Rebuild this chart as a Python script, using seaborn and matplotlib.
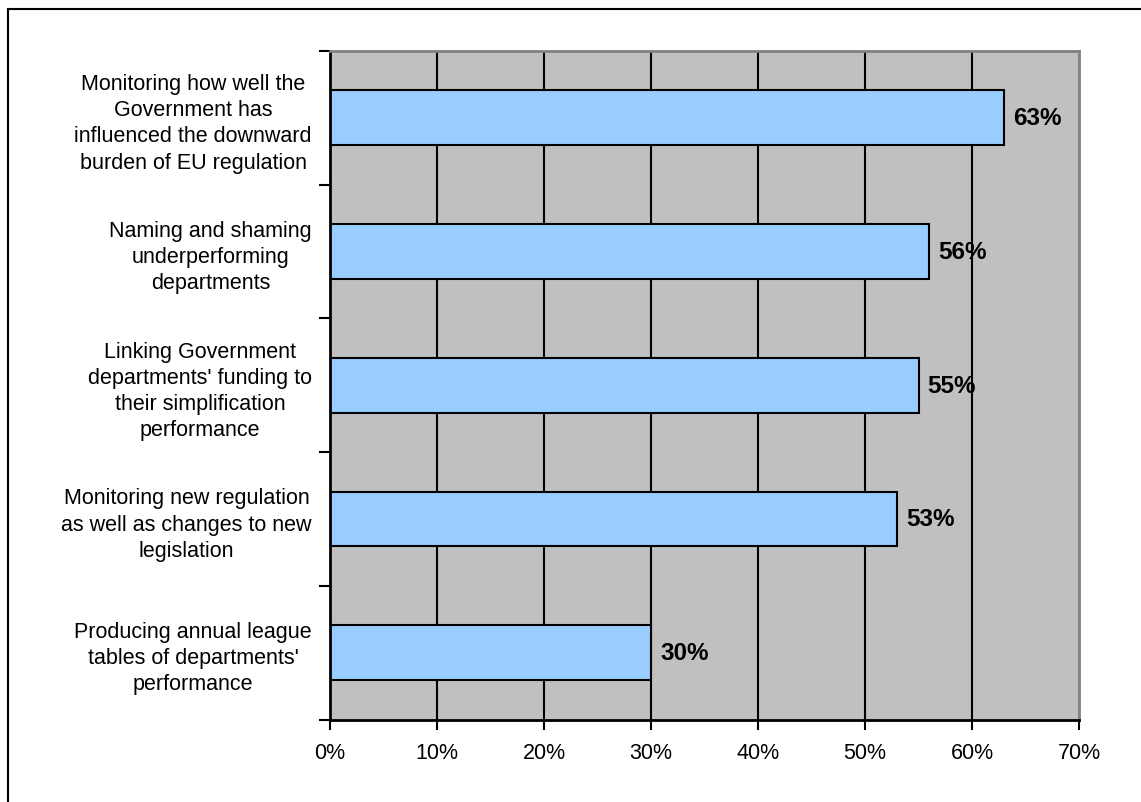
import matplotlib
matplotlib.use("Agg")
import matplotlib.pyplot as plt
from matplotlib.patches import Rectangle
from matplotlib.ticker import FixedLocator, PercentFormatter
import seaborn as sns
import pandas as pd

categories = [
    "Monitoring how well the\nGovernment has\ninfluenced the downward\nburden of EU regulation",
    "Naming and shaming\nunderperforming\ndepartments",
    "Linking Government\ndepartments' funding to\ntheir simplification\nperformance",
    "Monitoring new regulation\nas well as changes to new\nlegislation",
    "Producing annual league\ntables of departments'\nperformance",
]
values = [63, 56, 55, 53, 30]
x_ticks = [0, 10, 20, 30, 40, 50, 60, 70]

sns.set_style("white")
plt.rcParams["font.family"] = ["Liberation Sans", "DejaVu Sans"]
plt.rcParams["text.color"] = "black"
plt.rcParams["xtick.color"] = "black"
plt.rcParams["ytick.color"] = "black"

W, H = 1141, 803
fig = plt.figure(figsize=(W / 100, H / 100), dpi=100)
ax = fig.add_axes([330 / W, 1 - 720.5 / H, (1079 - 330) / W, (720.5 - 52) / H])
ax.set_facecolor("#C0C0C0")

df = pd.DataFrame({"cat": categories, "val": values})

# gridlines behind bars
for xv in x_ticks[1:-1]:
    ax.axvline(xv, color="black", lw=1.5, zorder=0.5)

sns.barplot(data=df, x="val", y="cat", orient="h", color="#99CCFF",
            edgecolor="black", linewidth=1.5, width=0.41, saturation=1,
            ax=ax, zorder=2)

ax.set_xlim(0, 70)
ax.set_ylim(len(categories) - 0.5, -0.5)
ax.set_xlabel("")
ax.set_ylabel("")

ax.set_xticks(x_ticks)
ax.xaxis.set_major_formatter(PercentFormatter(decimals=0))
ax.tick_params(axis="x", length=7, width=1.5, color="black", pad=9,
               labelsize=15.5, labelcolor="black", bottom=True)

# y: major ticks at band boundaries, labels at centres
n = len(categories)
ax.yaxis.set_major_locator(FixedLocator([i - 0.5 for i in range(n + 1)]))
ax.set_yticklabels([""] * (n + 1))
ax.set_yticks(list(range(n)), minor=True)
ax.set_yticklabels(categories, minor=True, multialignment="center",
                   fontsize=15.5, linespacing=1.32, color="black")
ax.tick_params(axis="y", which="major", length=8, width=1.5, color="black",
               left=True)
ax.tick_params(axis="y", which="minor", length=0, pad=13, left=True)

for s in ["left", "bottom"]:
    ax.spines[s].set_color("black")
    ax.spines[s].set_linewidth(2)
for s in ["top", "right"]:
    ax.spines[s].set_color("#808080")
    ax.spines[s].set_linewidth(2)

for i, v in enumerate(values):
    ax.text(v + 0.85, i, f"{v}%", va="center", ha="left", fontsize=17.5,
            fontweight="bold", color="black", zorder=3)

# outer chart border (clipped at right/bottom in the reference)
fig.add_artist(Rectangle((8 / W, -0.05), 1.2, 1 - 10 / H + 0.05,
                         transform=fig.transFigure, fill=False,
                         edgecolor="black", lw=1.5))

fig.savefig("out.png", dpi=100)
